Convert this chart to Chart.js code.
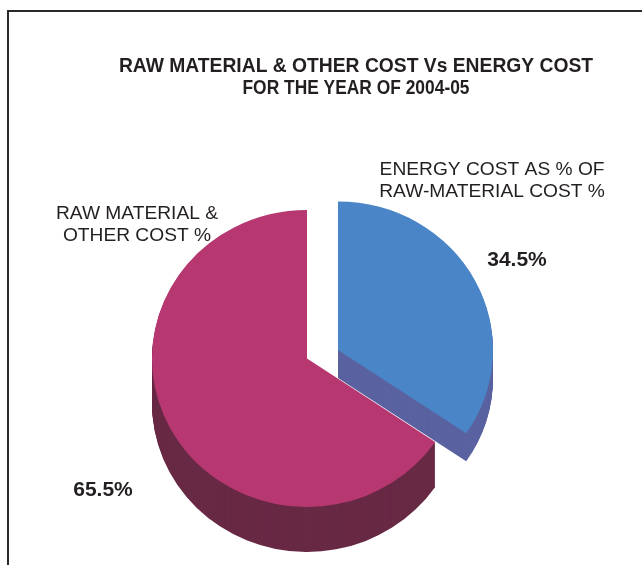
<!DOCTYPE html>
<html>
<head>
<meta charset="utf-8">
<script src="https://cdn.jsdelivr.net/npm/chart.js@4"></script>
<style>
  html, body { margin: 0; padding: 0; background: #fff; overflow: hidden; }
  #frame { position: absolute; left: 7px; top: 10px; width: 720px; height: 620px; border: 2px solid #2a2a2a; }
  #chart { position: absolute; left: 0; top: 0; }
</style>
</head>
<body>
<div id="frame"><canvas id="chart" width="692" height="570"></canvas></div>
<script>
// chart data
const titleLines = ['RAW MATERIAL & OTHER COST Vs ENERGY COST', 'FOR THE YEAR OF 2004-05'];
const categories = [['ENERGY COST AS % OF', 'RAW-MATERIAL COST %'], ['RAW MATERIAL &', 'OTHER COST %']];
const shares = [34.5, 65.5];

const topColors = ['#4a86c7', '#b73771'];
const sideColors = ['#5a62a0', '#682944'];
const textColor = '#231f20';

function slicePath(ctx, arc, dy) {
    ctx.beginPath();
    ctx.moveTo(arc.x, arc.y + dy);
    ctx.arc(arc.x, arc.y + dy, arc.outerRadius, arc.startAngle, arc.endAngle);
    ctx.closePath();
}

const pie3d = {
    id: 'pie3d',
    afterDatasetsUpdate(chart, args, opts) {
        // pull the exploded slice away from the centre
        chart.getDatasetMeta(0).data.forEach((arc, i) => {
            arc.x += opts.explode[i][0];
            arc.y += opts.explode[i][1];
        });
    },
    beforeDatasetsDraw(chart, args, opts) {
        const ctx = chart.ctx;
        const arcs = chart.getDatasetMeta(0).data;
        const cx = arcs[1].x, cy = arcs[1].y;
        ctx.save();
        ctx.translate(cx, cy);
        ctx.scale(1, opts.tilt);
        ctx.translate(-cx, -cy);
        arcs.forEach((arc, i) => {
            ctx.fillStyle = sideColors[i];
            for (let d = opts.depth[i]; d > 0; d--) {
                slicePath(ctx, arc, d / opts.tilt);
                ctx.fill();
            }
        });
    },
    afterDatasetsDraw(chart) {
        chart.ctx.restore();
    },
    afterDraw(chart, args, opts) {
        const ctx = chart.ctx;
        const arcs = chart.getDatasetMeta(0).data;
        const cx = arcs[1].x, cy = arcs[1].y, r = arcs[1].outerRadius;
        ctx.save();
        ctx.fillStyle = textColor;
        ctx.textAlign = 'center';
        ctx.textBaseline = 'middle';

        ctx.font = opts.titleFont;
        titleLines.forEach((line, j) => {
            ctx.fillText(line, chart.width / 2 + 1, opts.titleTop + j * opts.lineHeight, opts.titleWidth[j]);
        });

        categories.forEach((lines, i) => {
            const p = opts.namePos[i];
            ctx.font = opts.nameFont;
            const y0 = cy + p[1] * r - (lines.length - 1) * opts.lineHeight / 2;
            lines.forEach((line, j) => {
                ctx.fillText(line, cx + p[0] * r, y0 + j * opts.lineHeight);
            });
            const q = opts.valuePos[i];
            ctx.font = opts.valueFont;
            ctx.fillText(shares[i].toFixed(1) + '%', cx + q[0] * r, cy + q[1] * r);
        });
        ctx.restore();
    }
};

const ctx = document.getElementById('chart');
new Chart(ctx, {
    type: 'pie',
    data: {
        labels: categories.map(c => c.join(' ')),
        datasets: [{
            data: shares,
            backgroundColor: topColors,
            borderWidth: 0,
            hoverOffset: 0,
            clip: false
        }]
    },
    options: {
        responsive: false,
        animation: false,
        events: [],
        layout: {
            padding: { left: 143, right: 239, top: 191.5, bottom: 68.5 }
        },
        plugins: {
            legend: { display: false },
            tooltip: { enabled: false },
            title: { display: false },
            pie3d: {
                tilt: 0.958,
                depth: [28, 45],
                explode: [[31, -9], [0, 0]],
                titleFont: 'bold 19.3px "Liberation Sans", Arial, sans-serif',
                titleTop: 55,
                titleWidth: [477, 227],
                nameFont: '19.2px "Liberation Sans", Arial, sans-serif',
                valueFont: 'bold 21px "Liberation Sans", Arial, sans-serif',
                lineHeight: 22,
                namePos: [[1.194, -1.145], [-1.097, -0.865]],
                valuePos: [[1.355, -0.635], [-1.316, 0.848]]
            }
        }
    },
    plugins: [pie3d]
});
</script>
</body>
</html>
